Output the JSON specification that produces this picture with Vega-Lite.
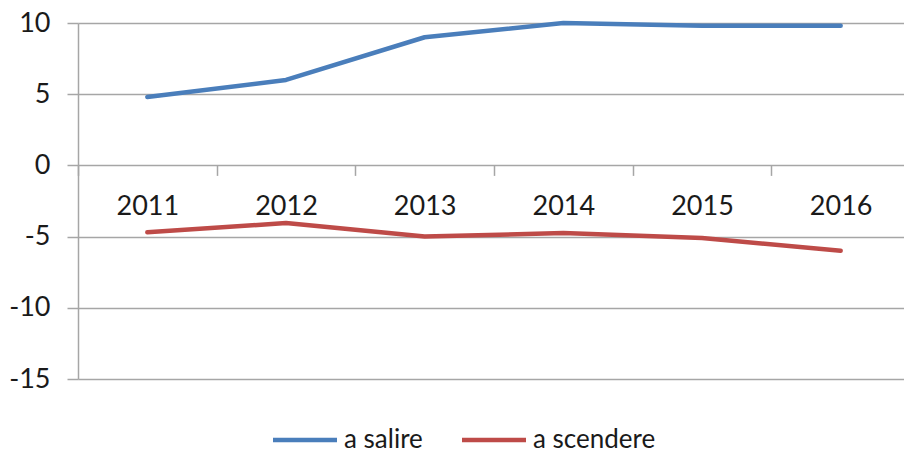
{
  "$schema": "https://vega.github.io/schema/vega-lite/v6.json",
  "autosize": {"type": "none"},
  "padding": {"left": 78, "top": 23, "right": 0, "bottom": 75},
  "width": 826,
  "height": 356,
  "background": "white",
  "config": {
    "view": {"stroke": null},
    "font": "Lato",
    "axis": {"labelFont": "Lato", "labelColor": "#1a1a1a", "gridColor": "#a6a6a6", "tickColor": "#a6a6a6", "domainColor": "#a6a6a6", "gridWidth": 1.5, "tickWidth": 1.5, "domainWidth": 1.5}
  },
  "data": {"values": [
    {"year": "2011", "series": "a salire", "value": 4.8},
    {"year": "2012", "series": "a salire", "value": 6.0},
    {"year": "2013", "series": "a salire", "value": 9.0},
    {"year": "2014", "series": "a salire", "value": 10.0},
    {"year": "2015", "series": "a salire", "value": 9.8},
    {"year": "2016", "series": "a salire", "value": 9.8},
    {"year": "2011", "series": "a scendere", "value": -4.7},
    {"year": "2012", "series": "a scendere", "value": -4.05},
    {"year": "2013", "series": "a scendere", "value": -5.0},
    {"year": "2014", "series": "a scendere", "value": -4.75},
    {"year": "2015", "series": "a scendere", "value": -5.1},
    {"year": "2016", "series": "a scendere", "value": -6.0}
  ]},
  "mark": {"type": "line", "strokeWidth": 4.5, "strokeCap": "round", "strokeJoin": "round"},
  "encoding": {
    "x": {
      "field": "year", "type": "ordinal",
      "scale": {"type": "band", "paddingInner": 0, "paddingOuter": 0, "range": [0, 832]},
      "axis": {"title": null, "labelAngle": 0, "domain": false, "grid": false, "tickBand": "extent", "tickSize": 10, "labelFontSize": 27, "labelPadding": 18, "offset": -213.6}
    },
    "y": {
      "field": "value", "type": "quantitative",
      "scale": {"domain": [-15, 10], "nice": false, "zero": false},
      "axis": {"title": null, "values": [-15, -10, -5, 0, 5, 10], "labelExpr": "toString(datum.value)", "tickSize": 11, "labelFontSize": 27, "labelPadding": 17, "grid": true}
    },
    "color": {
      "field": "series", "type": "nominal",
      "scale": {"domain": ["a salire", "a scendere"], "range": ["#4a7ebb", "#be4b48"]},
      "legend": {"title": null, "orient": "none", "direction": "horizontal", "legendX": 214, "legendY": 404, "symbolType": "M-4,0H4", "symbolSize": 256, "symbolStrokeWidth": 4.5, "labelFontSize": 26, "labelFont": "Lato", "labelColor": "#1a1a1a", "labelOffset": 26, "columnPadding": 30, "padding": 0}
    }
  }
}
